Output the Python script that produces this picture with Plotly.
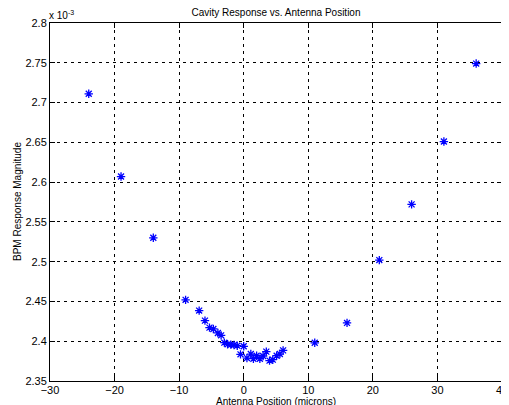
import plotly.graph_objects as go

# Antenna position (microns)
positions = [-24, -19, -14, -9, -6.9, -6.0, -5.3, -4.7, -4.0, -3.5, -3.0, -2.5, -2.0,
             -1.5, -1.0, -0.5, 0.0, 0.5, 1.1, 1.5, 2.0, 2.5, 3.0, 3.5, 4.0, 4.5,
             5.1, 5.6, 6.1, 11, 16, 21, 26, 31, 36]
# BPM response magnitude (x 10^-3)
magnitudes = [2.711, 2.607, 2.530, 2.452, 2.4385, 2.4259, 2.4171, 2.4154, 2.4104, 2.4074,
              2.3982, 2.3961, 2.3957, 2.3952, 2.3944, 2.3835, 2.3936, 2.3788, 2.3839,
              2.3780, 2.3818, 2.3780, 2.3814, 2.3869, 2.3756, 2.3768, 2.3818, 2.3839,
              2.3885, 2.398, 2.423, 2.502, 2.572, 2.651, 2.749]

x_ticks = [-30, -20, -10, 0, 10, 20, 30, 40]
y_ticks = [2.35, 2.4, 2.45, 2.5, 2.55, 2.6, 2.65, 2.7, 2.75, 2.8]
y_tick_labels = ["2.35", "2.4", "2.45", "2.5", "2.55", "2.6", "2.65", "2.7", "2.75", "2.8"]

font = "Liberation Sans, Arial, sans-serif"

fig = go.Figure()
fig.add_trace(go.Scatter(
    x=positions, y=magnitudes, mode="markers",
    marker=dict(symbol="asterisk-open", size=7, color="#0000ff",
                line=dict(color="#0000ff", width=1.3)),
    showlegend=False,
))

axis_common = dict(
    showline=True, linecolor="black", linewidth=1, mirror="allticks",
    ticks="inside", ticklen=5, tickcolor="black",
    showgrid=True, gridcolor="black", gridwidth=1, griddash="3px,4px",
    zeroline=False, automargin=False,
    tickfont=dict(family=font, size=11, color="black"),
)

# page body has an 8px default margin, so the figure is sized to fit the window
fig.update_layout(
    width=501, height=397,
    margin=dict(l=42, r=7, t=15, b=24),
    paper_bgcolor="white", plot_bgcolor="white",
    font=dict(family=font, color="black"),
    title=dict(text="Cavity Response vs. Antenna Position", x=0.5, xref="paper",
               y=0.9975, yref="container", yanchor="top",
               font=dict(family=font, size=10, color="black")),
    xaxis=dict(range=[-30, 40], tickvals=x_ticks, ticklabelstandoff=-1, **axis_common),
    yaxis=dict(range=[2.35, 2.8], tickvals=y_ticks, ticktext=y_tick_labels, **axis_common),
    annotations=[
        dict(text="x 10<sup>-3</sup>", x=0, y=1, xref="paper", yref="paper",
             xanchor="left", yanchor="bottom", showarrow=False,
             font=dict(family=font, size=10, color="black"), xshift=-3, yshift=0),
        dict(text="Antenna Position (microns)", x=0.5, y=0, xref="paper", yref="paper",
             xanchor="center", yanchor="top", showarrow=False,
             font=dict(family=font, size=10, color="black"), yshift=-13),
        dict(text="BPM Response Magnitude", x=0, y=0.5, xref="paper", yref="paper",
             xanchor="center", yanchor="middle", textangle=-90, showarrow=False,
             font=dict(family=font, size=10, color="black"), xshift=-33),
    ],
)

fig.write_html("out.html")
